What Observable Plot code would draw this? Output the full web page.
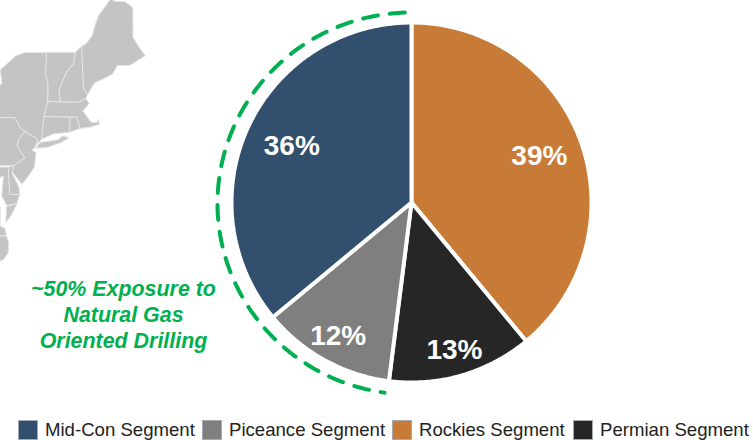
<!DOCTYPE html>
<html>
<head>
<meta charset="utf-8">
<script src="https://cdn.jsdelivr.net/npm/d3@7"></script>
<script src="https://cdn.jsdelivr.net/npm/@observablehq/plot@0.6"></script>
<style>
  html, body { margin: 0; padding: 0; background: #fff; }
  #chart svg { display: block; }
  #legend { position: relative; height: 30px; font: 18.6px "Liberation Sans", Arial, sans-serif; color: #222; }
  .item { position: absolute; top: 9px; display: flex; align-items: center; white-space: nowrap; }
  .swatch { width: 20px; height: 20px; border: 1px solid #A4ACB2; box-sizing: border-box; margin-right: 7px; }
</style>
</head>
<body>
<div id="chart"></div>
<div id="legend"></div>
<script>
// Revenue share by operating segment, clockwise from twelve o'clock
const segments = ["Rockies Segment", "Permian Segment", "Piceance Segment", "Mid-Con Segment"];
const shares = [39, 13, 12, 36];
const segmentColors = ["#C87A37", "#262626", "#7F7F7F", "#324F6D"];
const labelRadii = [0.755, 0.855, 0.845, 0.735];

// Legend order and horizontal offsets
const legendOrder = ["Mid-Con Segment", "Piceance Segment", "Rockies Segment", "Permian Segment"];
const legendLeft = [18, 202, 392, 573];

// Callout text
const calloutLines = ["~50% Exposure to", "Natural Gas", "Oriented Drilling"];
const calloutColor = "#00B050";

// Backdrop of the north-eastern United States: outlines in [longitude, latitude]
const states = {
  Maine: [[-71.08,45.3],[-70.8,45.4],[-70.4,45.8],[-70.25,46.2],[-70,46.7],[-69.23,47.46],[-68.9,47.35],[-68.3,47.35],[-67.8,47.07],[-67.79,45.7],[-67.45,45.3],[-67,44.85],[-68,44.4],[-68.8,44.4],[-69.1,44],[-69.8,43.75],[-70.25,43.6],[-70.7,43.07],[-70.98,43.4]],
  NewHampshire: [[-71.5,45],[-71.08,45.3],[-70.98,43.4],[-70.7,43.07],[-70.82,42.87],[-71.3,42.7],[-72.46,42.73],[-72.55,43.2],[-72.3,43.7],[-72.05,44.1],[-71.6,44.5]],
  Vermont: [[-73.34,45.01],[-71.5,45.01],[-71.6,44.5],[-72.05,44.1],[-72.3,43.7],[-72.55,43.2],[-72.46,42.73],[-73.26,42.75],[-73.25,43.6],[-73.4,44]],
  Massachusetts: [[-73.5,42.05],[-73.26,42.75],[-72.46,42.73],[-71.3,42.7],[-70.82,42.87],[-70.6,42.65],[-71,42.3],[-70.65,41.95],[-70.45,41.78],[-70.1,41.78],[-70,41.95],[-69.95,41.68],[-70.6,41.55],[-71.2,41.5],[-71.38,42.02],[-71.8,42.02]],
  Connecticut: [[-73.5,42.05],[-71.8,42.02],[-71.85,41.32],[-72.9,41.25],[-73.65,41]],
  RhodeIsland: [[-71.8,42.02],[-71.38,42.02],[-71.2,41.5],[-71.85,41.32]],
  NewYork: [[-79.76,42],[-75.35,42],[-75,41.5],[-74.7,41.36],[-73.9,41],[-74.02,40.7],[-73.65,41],[-73.5,42.05],[-73.26,42.75],[-73.25,43.6],[-73.4,44],[-73.34,45],[-74.7,45],[-75.3,44.85],[-76.3,44.2],[-76.2,43.55],[-77,43.3],[-79,43.27]],
  LongIsland: [[-74.02,40.6],[-73.75,40.85],[-72.6,40.98],[-72.3,41.15],[-71.87,41.07],[-72.5,40.82],[-73.3,40.63]],
  Pennsylvania: [[-80.5,42],[-75.35,42],[-75,41.5],[-74.7,41.36],[-75.13,40.98],[-75.2,40.68],[-74.72,40.15],[-75.4,39.8],[-80.5,39.72]],
  NewJersey: [[-74.7,41.36],[-73.9,41],[-74.02,40.7],[-74.25,40.48],[-74,40.4],[-74.1,39.75],[-74.4,39.4],[-74.9,38.93],[-75.55,39.5],[-75.4,39.8],[-74.72,40.15],[-75.2,40.68],[-75.13,40.98]],
  Delaware: [[-75.79,39.72],[-75.4,39.8],[-75.55,39.45],[-75.1,38.8],[-75.05,38.45],[-75.7,38.46]],
  Maryland: [[-79.5,39.72],[-75.79,39.72],[-75.7,38.46],[-75.05,38.45],[-75.24,38.03],[-75.9,37.95],[-76.2,38.4],[-76.1,39.3],[-76.5,39.2],[-76.4,38.3],[-77,38.3],[-77.5,39.1],[-79.5,39.2]],
  EasternShore: [[-75.24,38.03],[-75.9,37.9],[-75.95,37.15],[-75.6,37.5]],
  Virginia: [[-77,38.3],[-76.3,37.9],[-76.3,37],[-76,36.9],[-75.9,36.55],[-80,36.55],[-80,38.5],[-78,39.3],[-77.5,39.1]],
  NorthCarolina: [[-80,36.55],[-75.9,36.55],[-75.75,36.2],[-75.8,35.75],[-76.1,35.45],[-77,35.2],[-80,35.2]]
};

// Frame and the pie's place in it; one data unit equals one pie radius
const W = 753, H = 410, cx = 411, cy = 202, R = 180;

// Longitude/latitude to pie units, an equirectangular fit for the backdrop
const lonX = (lon) => (45 + (lon + 73.4) * 15.6 - cx) / R;
const latY = (lat) => -(52 + (45 - lat) * 21.7 - cy) / R;

const statePoints = Object.entries(states).flatMap(([state, ring]) =>
  ring.map(([lon, lat]) => ({state, x: lonX(lon), y: latY(lat)}))
);

// One closed polygon per slice, swept clockwise from the top
const total = d3.sum(shares);
let running = 0;
const slicePoints = [];
const labels = [];
segments.forEach((segment, i) => {
  const a0 = (running / total) * 2 * Math.PI;
  const a1 = ((running + shares[i]) / total) * 2 * Math.PI;
  running += shares[i];
  slicePoints.push({segment, x: 0, y: 0});
  d3.range(0, 121).forEach((k) => {
    const a = a0 + (a1 - a0) * k / 120;
    slicePoints.push({segment, x: Math.sin(a), y: Math.cos(a)});
  });
  const mid = (a0 + a1) / 2;
  labels.push({text: shares[i] + "%", x: labelRadii[i] * Math.sin(mid), y: labelRadii[i] * Math.cos(mid)});
});

// Dashed bracket around the gas-weighted slices, counter-clockwise from the top
const arcFrom = 2, arcTo = 172;
const bracket = d3.range(arcFrom, arcTo + 0.5, 1).map((deg) => {
  const a = deg * Math.PI / 180;
  return {x: -(194 / R) * Math.sin(a), y: (191 * Math.cos(a) - 1) / R};
});

const callout = calloutLines.map((text, i) => ({text, x: (123 - cx) / R, y: -(288.5 + i * 26 - cy) / R}));

const plot = Plot.plot({
  width: W,
  height: H,
  margin: 0,
  x: {domain: [-cx / R, (W - cx) / R], range: [0, W], axis: null},
  y: {domain: [-(H - cy) / R, cy / R], range: [H, 0], axis: null},
  color: {domain: segments, range: segmentColors},
  marks: [
    Plot.line(statePoints, {x: "x", y: "y", z: "state", curve: "linear-closed", fill: "#C4C4C4", stroke: "#E6E6E6", strokeWidth: 1}),
    Plot.line(slicePoints, {x: "x", y: "y", z: "segment", curve: "linear-closed", fill: "segment", stroke: "white", strokeWidth: 4, strokeLinejoin: "miter"}),
    Plot.line(bracket, {x: "x", y: "y", stroke: calloutColor, strokeWidth: 4, strokeDasharray: "15,12"}),
    Plot.text(labels, {x: "x", y: "y", text: "text", fill: "white", fontSize: 28, fontWeight: "bold", fontFamily: "Liberation Sans"}),
    Plot.text(callout, {x: "x", y: "y", text: "text", fill: calloutColor, fontSize: 21.4, fontWeight: "bold", fontStyle: "italic", fontFamily: "Liberation Sans"})
  ]
});
document.getElementById("chart").append(plot);

// Legend row under the chart
const legend = d3.select("#legend");
legendOrder.forEach((name, i) => {
  const item = legend.append("div").attr("class", "item").style("left", legendLeft[i] + "px");
  item.append("span").attr("class", "swatch").style("background", segmentColors[segments.indexOf(name)]);
  item.append("span").text(name);
});
</script>
</body>
</html>
